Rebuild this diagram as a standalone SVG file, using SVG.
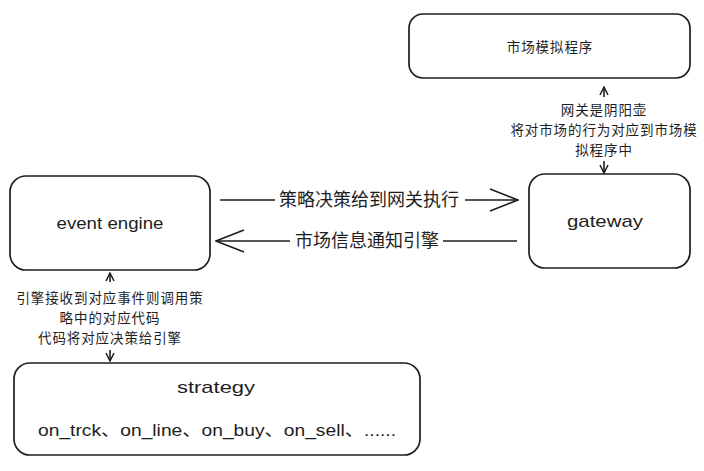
<svg xmlns="http://www.w3.org/2000/svg" width="704" height="471" viewBox="0 0 704 471">
<defs>
<style>
.box{fill:#fff;stroke:#1e1e1e;stroke-width:1.7}
.ln{fill:none;stroke:#1e1e1e;stroke-width:1.6}
.en{font-family:"Liberation Sans","Noto Sans CJK SC",sans-serif;font-size:17px;fill:#1e1e1e;text-anchor:middle}
.zh{font-family:"Noto Sans CJK SC","Liberation Sans",sans-serif;font-size:13.5px;letter-spacing:0.9px;fill:#1e1e1e;text-anchor:middle}
.zh2{font-family:"Noto Sans CJK SC","Liberation Sans",sans-serif;font-size:18px;fill:#1e1e1e;text-anchor:middle}
</style>
<marker id="ahs" viewBox="0 0 10 10" refX="9" refY="5" markerWidth="10" markerHeight="10" markerUnits="userSpaceOnUse" orient="auto-start-reverse">
<path d="M1,1 L9,5 L1,9" fill="none" stroke="#1e1e1e" stroke-width="1.5"/>
</marker>
<marker id="ahl" viewBox="0 0 30 26" refX="29" refY="13" markerWidth="30" markerHeight="26" markerUnits="userSpaceOnUse" orient="auto-start-reverse">
<path d="M1,2 L29,13 L1,24" fill="none" stroke="#1e1e1e" stroke-width="1.5"/>
</marker>
</defs>
<rect width="704" height="471" fill="#fff"/>
<g id="market">
<rect class="box" x="409" y="14" width="281" height="64" rx="14"/>
<text class="zh" x="550" y="52">市场模拟程序</text>
</g>
<g id="gateway">
<rect class="box" x="529" y="174" width="161" height="94" rx="16"/>
<text class="en" x="605" y="227" textLength="76" lengthAdjust="spacingAndGlyphs">gateway</text>
</g>
<g id="engine">
<rect class="box" x="10" y="176" width="200" height="94" rx="16"/>
<text class="en" x="110" y="229" textLength="107" lengthAdjust="spacingAndGlyphs">event engine</text>
</g>
<g id="strategy">
<rect class="box" x="14" y="363" width="406" height="92" rx="16"/>
<text class="en" x="216" y="393" textLength="78" lengthAdjust="spacingAndGlyphs">strategy</text>
<text class="en" x="217" y="436" textLength="358" lengthAdjust="spacingAndGlyphs">on_trck、on_line、on_buy、on_sell、......</text>
</g>
<g id="connectors">
<line class="ln" x1="604" y1="87" x2="604" y2="97" marker-start="url(#ahs)"/>
<line class="ln" x1="604" y1="161" x2="604" y2="173" marker-end="url(#ahs)"/>
<line class="ln" x1="220" y1="200" x2="275" y2="200"/>
<line class="ln" x1="465" y1="200" x2="518" y2="200" marker-end="url(#ahl)"/>
<line class="ln" x1="517" y1="241" x2="443" y2="241"/>
<line class="ln" x1="290" y1="241" x2="216" y2="241" marker-end="url(#ahl)"/>
<line class="ln" x1="110" y1="273" x2="110" y2="282" marker-start="url(#ahs)"/>
<line class="ln" x1="110" y1="350" x2="110" y2="361" marker-end="url(#ahs)"/>
<text class="zh" x="604" y="115">网关是阴阳壶</text>
<text class="zh" x="604" y="135">将对市场的行为对应到市场模</text>
<text class="zh" x="604" y="155">拟程序中</text>
<text class="zh2" x="369" y="206">策略决策给到网关执行</text>
<text class="zh2" x="367" y="247">市场信息通知引擎</text>
<text class="zh" x="110" y="303">引擎接收到对应事件则调用策</text>
<text class="zh" x="110" y="323">略中的对应代码</text>
<text class="zh" x="110" y="343">代码将对应决策给引擎</text>
</g>
</svg>
